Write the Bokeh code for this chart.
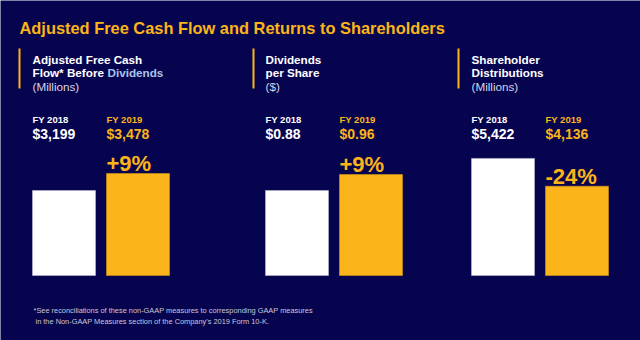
from bokeh.plotting import figure
from bokeh.models import Range1d
from bokeh.core.properties import value
from bokeh.embed import file_html
from bokeh.resources import INLINE

# ---------------- data ----------------
title = "Adjusted Free Cash Flow and Returns to Shareholders"
header_line1 = ["Adjusted Free Cash", "Dividends", "Shareholder"]
header_line2 = ["Flow* Before ", "per Share", "Distributions"]
header_line2_blue = ["Dividends", "", ""]
header_units = ["(Millions)", "($)", "(Millions)"]
years = ["FY 2018", "FY 2019"]
fy2018 = [3199, 0.88, 5422]
fy2019 = [3478, 0.96, 4136]
fy2018_labels = ["$3,199", "$0.88", "$5,422"]
fy2019_labels = ["$3,478", "$0.96", "$4,136"]
change_labels = ["+9%", "+9%", "-24%"]
footnote = ["*See reconciliations of these non-GAAP measures to corresponding GAAP measures",
            "in the Non-GAAP Measures section of the Company's 2019 Form 10-K."]

# ---------------- style / layout ----------------
BG = "#07044f"
YELLOW = "#fbb419"
WHITE = "#ffffff"
LIGHTBLUE = "#a9c4ea"
GREY = "#d6d6e6"
FONT = value("Liberation Sans")
W, H = 640, 340
BASE_PX = 275            # pixel row of the bar baseline
group_x = [32, 265, 471] # left edge of each group
line_x = [19, 253, 458]
bar_w = 63
bar_gap = 74
# per-group value axis: floor value and units per pixel
floors = [1804, 0.455, 0]
units_per_px = [16.41, 0.005, 46.3]

p = figure(width=W, height=H, output_backend="svg", toolbar_location=None,
           x_range=Range1d(0, W), y_range=Range1d(H, 0),
           background_fill_color=BG, border_fill_color=BG,
           outline_line_color=None, min_border=0,
           min_border_left=0, min_border_right=0, min_border_top=0, min_border_bottom=0)
p.axis.visible = False
p.xgrid.visible = False
p.ygrid.visible = False

for i in range(3):
    name = f"g{i}"
    f0, upp = floors[i], units_per_px[i]
    p.extra_y_ranges[name] = Range1d(f0 - (H - BASE_PX) * upp, f0 + BASE_PX * upp)
    x0 = group_x[i]
    xs = [x0 + bar_w / 2, x0 + bar_gap + bar_w / 2]
    p.vbar(x=[xs[0]], width=bar_w, bottom=f0, top=[fy2018[i]], y_range_name=name,
           fill_color=WHITE, line_color="#c8c8d8", line_width=0.5)
    p.vbar(x=[xs[1]], width=bar_w, bottom=f0, top=[fy2019[i]], y_range_name=name,
           fill_color=YELLOW, line_color="#e0a010", line_width=0.5)
    # change label 10px above the FY2019 bar
    p.text(x=[x0 + bar_gap], y=[fy2019[i] + 10 * upp], text=[change_labels[i]],
           y_range_name=name, text_font=FONT, text_font_style="bold",
           text_font_size="22px", text_color=YELLOW,
           text_baseline="alphabetic", text_align="left")
    # year + value labels
    p.text(x=[x0, x0 + bar_gap], y=[119, 119], text=years,
           text_font=FONT, text_font_style="bold", text_font_size="9.5px",
           text_color=[WHITE, YELLOW], text_baseline="alphabetic", text_align="left")
    p.text(x=[x0, x0 + bar_gap], y=[133, 133], text=[fy2018_labels[i], fy2019_labels[i]],
           text_font=FONT, text_font_style="bold", text_font_size="14px",
           text_color=[WHITE, YELLOW], text_baseline="alphabetic", text_align="left")
    # header
    p.segment(x0=[line_x[i]], y0=[48], x1=[line_x[i]], y1=[88], line_color=YELLOW, line_width=2)
    p.text(x=[x0, x0], y=[58.5, 72], text=[header_line1[i], header_line2[i]],
           text_font=FONT, text_font_style="bold", text_font_size="11.7px",
           text_color=WHITE, text_baseline="alphabetic", text_align="left")
    if header_line2_blue[i]:
        p.text(x=[107], y=[72], text=[header_line2_blue[i]],
               text_font=FONT, text_font_style="bold", text_font_size="11.7px",
               text_color=LIGHTBLUE, text_baseline="alphabetic", text_align="left")
    p.text(x=[x0], y=[85.5], text=[header_units[i]],
           text_font=FONT, text_font_size="11.7px",
           text_color=GREY, text_baseline="alphabetic", text_align="left")

p.text(x=[19], y=[27], text=[title], text_font=FONT, text_font_style="bold",
       text_font_size="16.4px", text_color=YELLOW, text_baseline="alphabetic", text_align="left")
p.text(x=[33, 35], y=[310, 321], text=footnote, text_font=FONT, text_font_size="7.4px",
       text_color="#c8c8d8", text_baseline="alphabetic", text_align="left")

open("out.html", "w").write(file_html(p, INLINE))
